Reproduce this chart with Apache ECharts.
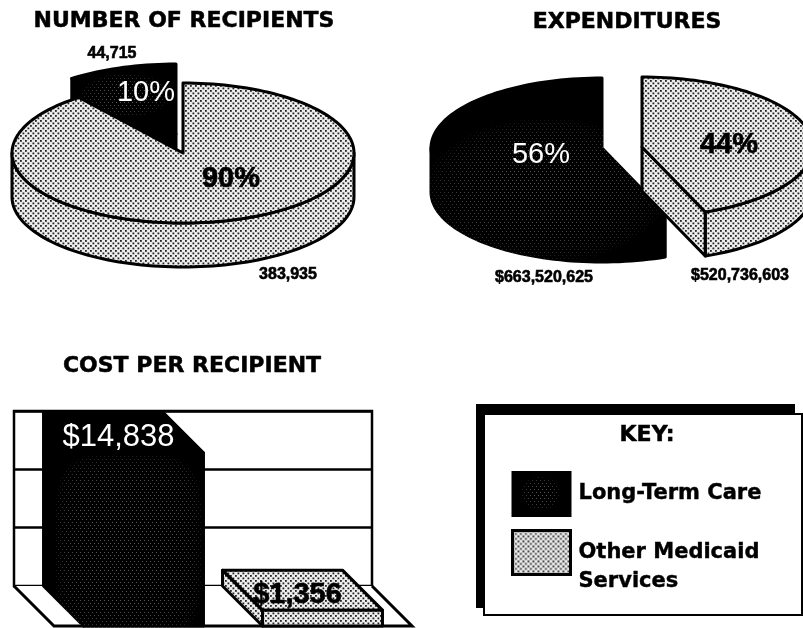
<!DOCTYPE html>
<html>
<head>
<meta charset="utf-8">
<title>Medicaid recipients and expenditures</title>
<script src="https://cdn.jsdelivr.net/npm/echarts@6/dist/echarts.min.js"></script>
<style>
html, body { margin: 0; padding: 0; background: #fff; }
#main { width: 803px; height: 628px; }
</style>
</head>
<body>
<div id="main"></div>
<script>
var keyLabels = ['Long-Term Care', 'Other Medicaid Services'];
var recipients = [44715, 383935];
var expenditures = [663520625, 520736603];
var costLabels = ['Long-Term Care', 'Other Medicaid Services'];
var costPerRecipient = [14838, 1356];
var costTicks = [0, 5000, 10000, 15000];

var FONT = '"Liberation Sans", Arial, sans-serif';
var WIDE = '"DejaVu Sans", sans-serif';
var RX = 171, RY = 70, THICK = 44;

// dither for the light slices
function lightTile() {
    var c = document.createElement('canvas');
    c.width = 5; c.height = 5;
    var g = c.getContext('2d');
    g.fillStyle = '#ededed';
    g.fillRect(0, 0, 5, 5);
    g.fillStyle = '#222';
    g.fillRect(0, 0, 1.8, 1.8);
    g.fillRect(2.5, 2.5, 1.8, 1.8);
    return c;
}

// black with scanner speckle that only shows in the middle of the dark shapes
function darkTile() {
    var c = document.createElement('canvas');
    c.width = 803; c.height = 628;
    var g = c.getContext('2d');
    g.fillStyle = '#000';
    g.fillRect(0, 0, 803, 628);
    var spots = [
        [125, 95, 45, 22, 2], [545, 190, 120, 72, 2], [128, 545, 74, 92, 4], [540, 493, 20, 17, 2]
    ];
    for (var y = 0; y < 628; y += 3) {
        for (var x = (y % 2) ? 2 : 0; x < 803; x += 4) {
            for (var i = 0; i < spots.length; i++) {
                var s = spots[i];
                var d = Math.pow(Math.abs(x - s[0]) / s[2], s[4]) + Math.pow(Math.abs(y - s[1]) / s[3], s[4]);
                if (d < 1) {
                    var v = Math.round(90 * Math.sqrt(1 - d));
                    g.fillStyle = 'rgb(' + v + ',' + v + ',' + v + ')';
                    g.fillRect(x, y, 1, 1);
                }
            }
        }
    }
    return c;
}

var lightFill = { image: lightTile(), repeat: 'repeat' };
var darkFill = { image: darkTile(), repeat: 'repeat' };

function arc(cx, cy, a0, a1) {
    var pts = [];
    var n = Math.max(2, Math.ceil(Math.abs(a1 - a0) / 2));
    for (var i = 0; i <= n; i++) {
        var a = (a0 + (a1 - a0) * i / n) * Math.PI / 180;
        pts.push([cx + RX * Math.cos(a), cy - RY * Math.sin(a)]);
    }
    return pts;
}

function poly(points, fill) {
    return {
        type: 'polygon',
        shape: { points: points },
        style: { fill: fill, stroke: fill === darkFill ? darkFill : '#000', lineWidth: 3, lineJoin: 'round' }
    };
}

function label(text, x, y, size, color, weight) {
    return {
        type: 'text',
        style: {
            text: text, x: x, y: y, fill: color,
            stroke: color === '#000' ? '#000' : null, lineWidth: color === '#000' ? 0.6 : 0,
            font: (weight || 'normal') + ' ' + size + 'px ' + FONT,
            align: 'center', verticalAlign: 'middle'
        }
    };
}

function shifted(points) {
    return points.map(function (p) { return [p[0], p[1] + THICK]; });
}

// one slice: rim, visible cut faces and top face
function slice(cx, cy, a0, a1, fill) {
    var kids = [];
    var from = Math.max(a0, 180), to = Math.min(a1, 360);
    if (to > from) {
        var rim = arc(cx, cy, from, to);
        kids.push(poly(rim.concat(shifted(rim).reverse()), fill));
    }
    [[a1, a1 + 90], [a0, a0 - 90]].forEach(function (cut) {
        if (Math.sin(cut[1] * Math.PI / 180) < -0.01) {
            var e = arc(cx, cy, cut[0], cut[0])[0];
            kids.push(poly([[cx, cy], e, [e[0], e[1] + THICK], [cx, cy + THICK]], fill));
        }
    });
    kids.push(poly([[cx, cy]].concat(arc(cx, cy, a0, a1)), fill));
    return kids;
}

// slices are laid out from 12 o'clock: dark one counter-clockwise, the other takes the rest
function pieSeries(values, layout) {
    var total = values[0] + values[1];
    var darkEnd = 90 + values[0] / total * 360;
    return {
        type: 'custom',
        coordinateSystem: 'none',
        silent: true,
        data: values,
        renderItem: function (params, api) {
            var i = params.dataIndex;
            var v = api.value(0);
            var p = layout[i];
            var kids = i === 0
                ? slice(p.cx, p.cy, 90, darkEnd, darkFill)
                : slice(p.cx, p.cy, darkEnd, 450, lightFill);
            kids.push(label(Math.round(v / total * 100) + '%', p.pctX, p.pctY, 29, i === 0 ? '#fff' : '#000', i === 0 ? 'normal' : 'bold'));
            kids.push(label(p.prefix + v.toLocaleString('en-US'), p.valX, p.valY, 16, '#000', 'bold'));
            return { type: 'group', children: kids };
        }
    };
}

var DX = 40, DY = 40;

var floorSeries = {
    type: 'custom',
    coordinateSystem: 'cartesian2d',
    silent: true,
    data: [[0, 0]],
    renderItem: function (params) {
        var r = params.coordSys;
        var b = r.y + r.height;
        return {
            type: 'polyline',
            shape: { points: [[r.x, b], [r.x + DX, b + DY], [r.x + r.width + DX, b + DY], [r.x + r.width, b]] },
            style: { fill: '#fff', stroke: '#000', lineWidth: 3 }
        };
    }
};

var barSeries = {
    type: 'custom',
    coordinateSystem: 'cartesian2d',
    silent: true,
    data: costPerRecipient.map(function (v, i) { return [costLabels[i], v]; }),
    renderItem: function (params, api) {
        var i = params.dataIndex;
        var top = api.coord([api.value(0), api.value(1)]);
        var base = api.coord([api.value(0), 0]);
        var w = api.size([1, 0])[0] * 0.67;
        var l = top[0] - w / 2, r = top[0] + w / 2;
        var fill = i === 0 ? darkFill : lightFill;
        var kids = [
            poly([[l, top[1]], [l + DX, top[1] + DY], [l + DX, base[1] + DY], [l, base[1]]], fill),
            poly([[l, top[1]], [r, top[1]], [r + DX, top[1] + DY], [l + DX, top[1] + DY]], fill),
            poly([[l + DX, top[1] + DY], [r + DX, top[1] + DY], [r + DX, base[1] + DY], [l + DX, base[1] + DY]], fill)
        ];
        kids.push(label('$' + api.value(1).toLocaleString('en-US'), top[0] + 15, top[1] + 25, i === 0 ? 31 : 29, i === 0 ? '#fff' : '#000', i === 0 ? 'normal' : 'bold'));
        return { type: 'group', children: kids };
    }
};

function titleAt(text, x, y, size) {
    return {
        text: text, left: x, top: y, textAlign: 'center', padding: 0,
        textStyle: { fontFamily: WIDE, fontWeight: 'bold', fontSize: size, color: '#000', textBorderColor: '#000', textBorderWidth: 0.5 }
    };
}

var chart = echarts.init(document.getElementById('main'), null, { renderer: 'canvas' });

chart.setOption({
    animation: false,
    backgroundColor: '#fff',
    title: [
        titleAt('NUMBER OF RECIPIENTS', 184, 10, 22),
        titleAt('EXPENDITURES', 627, 11, 22),
        titleAt('COST PER RECIPIENT', 192, 355, 22),
        titleAt('KEY:', 647, 424, 22)
    ],
    grid: { left: 14, top: 411, width: 358, height: 175, show: true, borderColor: '#000', borderWidth: 2.5, backgroundColor: '#fff' },
    xAxis: {
        type: 'category', data: costLabels,
        axisLine: { show: false }, axisTick: { show: false }, axisLabel: { show: false }
    },
    yAxis: {
        type: 'value', min: costTicks[0], max: costTicks[3], interval: costTicks[1],
        axisLine: { show: false }, axisTick: { show: false }, axisLabel: { show: false },
        splitLine: { lineStyle: { color: '#000', width: 2.5 } }
    },
    legend: {
        left: 511, top: 471, orient: 'vertical', padding: 0,
        itemWidth: 58, itemHeight: 44, itemGap: -8, icon: 'rect',
        textStyle: { fontFamily: WIDE, fontWeight: 'bold', fontSize: 21, color: '#000', lineHeight: 29, padding: [0, 0, 0, 3], textBorderColor: '#000', textBorderWidth: 0.4 },
        // blank first line keeps the first text line level with the swatch middle
        formatter: function (name) { return name === keyLabels[1] ? '\nOther Medicaid\nServices' : name; },
        selectedMode: false,
        data: [
            { name: keyLabels[0], itemStyle: { color: '#000', borderColor: '#000', borderWidth: 2 } },
            { name: keyLabels[1], itemStyle: { color: lightFill, borderColor: '#000', borderWidth: 3 } }
        ]
    },
    graphic: [
        { type: 'polygon', z: -1, shape: { points: [[476, 404], [795, 404], [795, 415], [484, 415], [484, 608], [476, 608]] }, style: { fill: '#000' } },
        { type: 'rect', z: -1, shape: { x: 484, y: 414, width: 318, height: 201 }, style: { fill: '#fff', stroke: '#000', lineWidth: 2 } },
        { type: 'rect', z: 100, shape: { x: 512, y: 472, width: 56, height: 42 }, style: { fill: darkFill } }
    ],
    series: [
        pieSeries(recipients, [
            { cx: 176, cy: 134, pctX: 146, pctY: 93, valX: 112, valY: 54, prefix: '' },
            { cx: 183, cy: 153, pctX: 231, pctY: 179, valX: 288, valY: 275, prefix: '' }
        ]),
        pieSeries(expenditures, [
            { cx: 602, cy: 148, pctX: 541, pctY: 155, valX: 544, valY: 278, prefix: '$' },
            { cx: 642, cy: 147, pctX: 729, pctY: 145, valX: 740, valY: 276, prefix: '$' }
        ]),
        floorSeries,
        barSeries,
        { type: 'custom', name: keyLabels[0], coordinateSystem: 'none', data: [], renderItem: function () {} },
        { type: 'custom', name: keyLabels[1], coordinateSystem: 'none', data: [], renderItem: function () {} }
    ]
});
</script>
</body>
</html>
